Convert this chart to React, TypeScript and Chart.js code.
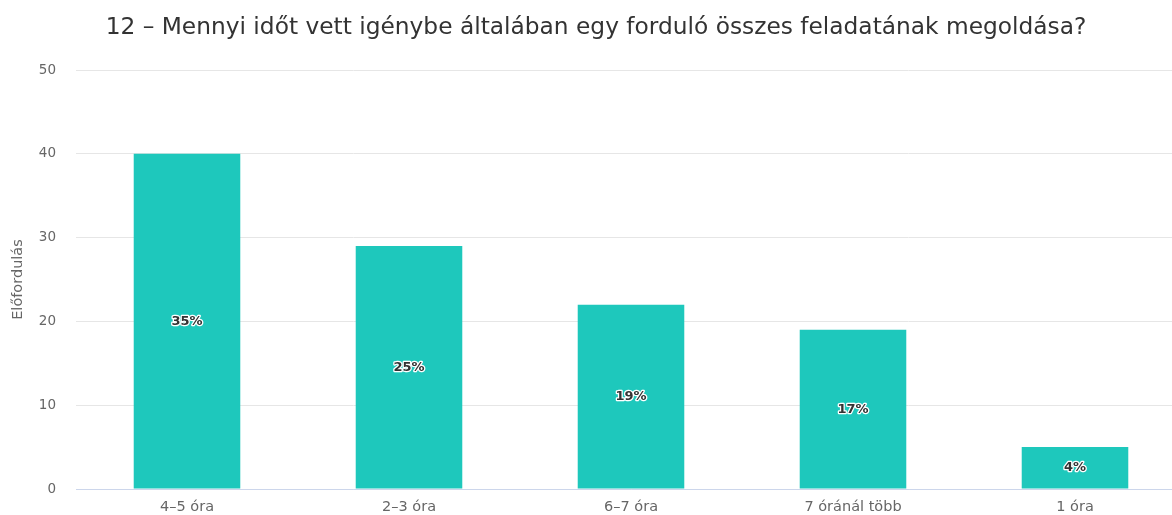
import React, { useEffect, useRef } from 'react';
import { Chart, registerables } from 'chart.js';
Chart.register(...registerables);

const TITLE = '12 – Mennyi időt vett igénybe általában egy forduló összes feladatának megoldása?';
const categories = ['4–5 óra', '2–3 óra', '6–7 óra', '7 óránál több', '1 óra'];
const counts = [40, 29, 22, 19, 5];
const percentLabels = ['35%', '25%', '19%', '17%', '4%'];
const yMin = 0;
const yMax = 50;
const yStep = 10;
const yAxisTitle = 'Előfordulás';

const FONT = '"DejaVu Sans", "Open Sans", sans-serif';

const titlePlugin = {
  id: 'customTitle',
  afterDraw(chart: any) {
    const ctx = chart.ctx;
    ctx.save();
    ctx.font = `23.3px ${FONT}`;
    ctx.fillStyle = '#333333';
    ctx.textAlign = 'center';
    ctx.textBaseline = 'middle';
    ctx.fillText(TITLE, 596, 28);
    ctx.restore();
  },
};

const barLabelPlugin = {
  id: 'barLabels',
  afterDatasetsDraw(chart: any) {
    const ctx = chart.ctx;
    const meta = chart.getDatasetMeta(0);
    ctx.save();
    ctx.font = `bold 13px ${FONT}`;
    ctx.textAlign = 'center';
    ctx.textBaseline = 'middle';
    ctx.lineJoin = 'round';
    meta.data.forEach((bar: any, i: number) => {
      const { x, y, base } = bar.getProps(['x', 'y', 'base'], true);
      const cy = (y + base) / 2;
      ctx.strokeStyle = '#ffffff';
      ctx.lineWidth = 2.5;
      ctx.strokeText(percentLabels[i], x, cy);
      ctx.fillStyle = '#333333';
      ctx.fillText(percentLabels[i], x, cy);
    });
    ctx.restore();
  },
};

export default function App() {
  const ref = useRef<HTMLCanvasElement>(null);
  useEffect(() => {
    if (!ref.current) return;
    const chart = new Chart(ref.current, {
      type: 'bar',
      data: {
        labels: categories,
        datasets: [
          {
            data: counts,
            backgroundColor: '#1ec8bc',
            barPercentage: 0.48,
            categoryPercentage: 1,
          },
        ],
      },
      options: {
        responsive: false,
        animation: false,
        devicePixelRatio: 1,
        layout: { padding: { top: 70, left: 0, right: 6, bottom: 0 } },
        plugins: {
          legend: { display: false },
          tooltip: { enabled: false },
          title: { display: false },
        },
        scales: {
          x: {
            type: 'category',
            offset: true,
            grid: { display: false, drawTicks: false },
            border: { display: true, color: '#ccd6eb', width: 1 },
            ticks: {
              color: '#666666',
              font: { size: 14.5, family: FONT },
              padding: 10,
              maxRotation: 0,
              autoSkip: false,
            },
            afterFit: (s: any) => {
              s.height = 26;
              s.paddingLeft = 0;
              s.paddingRight = 0;
            },
          },
          y: {
            min: yMin,
            max: yMax,
            ticks: {
              stepSize: yStep,
              color: '#666666',
              font: { size: 13.5, family: FONT },
              padding: 20,
            },
            grid: { color: '#e6e6e6', drawTicks: false },
            border: { display: false },
            title: {
              display: true,
              text: yAxisTitle,
              color: '#666666',
              font: { size: 14.5, family: FONT },
              padding: { top: 10, bottom: 0 },
            },
            afterFit: (s: any) => {
              s.width = 76;
              s.paddingTop = 0;
              s.paddingBottom = 0;
            },
          },
        },
      },
      plugins: [titlePlugin, barLabelPlugin],
    });
    return () => chart.destroy();
  }, []);
  return (
    <div
      style={{
        position: 'absolute',
        left: 0,
        top: 0,
        width: 1172,
        height: 515,
        overflow: 'hidden',
        background: '#ffffff',
      }}
    >
      <canvas ref={ref} width={1192} height={515} style={{ width: 1192, height: 515, display: 'block' }} />
    </div>
  );
}
